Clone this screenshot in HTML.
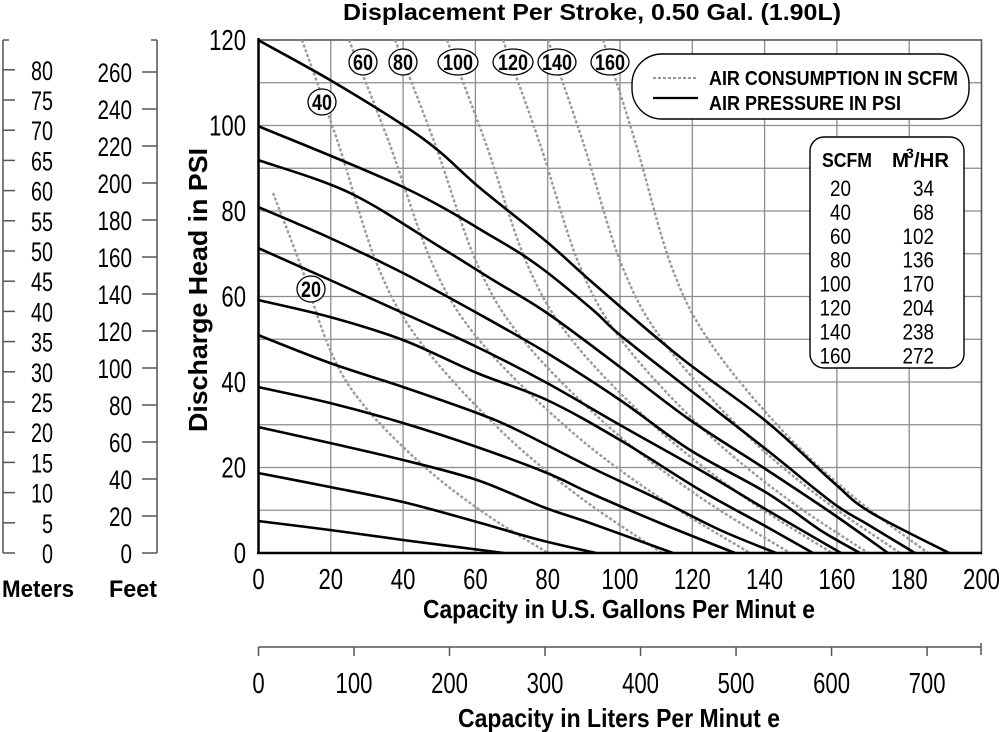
<!DOCTYPE html>
<html><head><meta charset="utf-8"><style>
html,body{margin:0;padding:0;background:#fff}
svg{display:block;font-family:"Liberation Sans",sans-serif}
</style></head><body>
<svg id="s" width="1000" height="732" viewBox="0 0 1000 732" xmlns="http://www.w3.org/2000/svg">
<g id="grid" stroke="#8c8c8c" stroke-width="1.3"></g>
<g id="dots" fill="none" stroke="#9a9a9a" stroke-width="2.4" stroke-dasharray="3,2"></g>
<g id="curves" fill="none" stroke="#000" stroke-width="2.6" stroke-linejoin="round"></g>
<g id="misc"></g>
</svg>
<script>
var NS="http://www.w3.org/2000/svg";
function el(p,t,a,txt){var e=document.createElementNS(NS,t);for(var k in a)e.setAttribute(k,a[k]);if(txt!==undefined)e.textContent=txt;document.getElementById(p).appendChild(e);return e;}
function X(g){return 258.5+3.615*g;}
function Y(p){return 553-4.275*p;}
function T(x,y,s,size,anchor,w,bold){var a={x:x,y:y,"font-size":size,"text-anchor":anchor||"start",fill:"#000"};if(w){a.textLength=w;a.lengthAdjust="spacingAndGlyphs";}if(bold)a["font-weight"]="bold";return el("misc","text",a,s);}
for(var g=20;g<200;g+=20)el("grid","line",{x1:X(g),y1:40,x2:X(g),y2:553});
for(var p=10;p<120;p+=10)el("grid","line",{x1:258,y1:Y(p),x2:981,y2:Y(p)});
el("grid","rect",{x:258.5,y:40,width:723,height:513,fill:"none",stroke:"#555","stroke-width":1.6});
var f=[[0,0],[.2,.1],[.44,.21],[.59,.33],[.76,.55],[.89,.77],[1,1]];
function fi(t){for(var i=1;i<f.length;i++){if(t<=f[i][0]){var a=f[i-1],b=f[i];return a[1]+(b[1]-a[1])*(t-a[0])/(b[0]-a[0]);}}return 1;}
var dc=[[273,193,548],[302,40,662],[349,40,750],[395,40,790],[447,40,832],[503,40,868],[548,40,900],[603,40,928]];
dc.forEach(function(c){var P=[];f.forEach(function(q){P.push([c[0]+(c[2]-c[0])*q[1],c[1]+(553-c[1])*q[0]]);});el("dots","path",{d:cr(P)});});
function cr(P){var d="M"+P[0][0]+","+P[0][1];for(var i=0;i<P.length-1;i++){var p0=P[i-1]||P[i],p1=P[i],p2=P[i+1],p3=P[i+2]||P[i+1];
var c1=[p1[0]+(p2[0]-p0[0])/6,p1[1]+(p2[1]-p0[1])/6],c2=[p2[0]-(p3[0]-p1[0])/6,p2[1]-(p3[1]-p1[1])/6];
d+=" C"+c1.join(",")+" "+c2.join(",")+" "+p2.join(",");}return d;}
var C=[
[[258,40],[330,80],[403,125],[440,152],[480,188],[547,242],[593,283],[680,357],[767,422],[833,482],[870,512],[949,553]],
[[258,126],[403,187],[493,237],[540,267],[593,310],[620,335],[690,390],[767,450],[833,503],[867,524],[915,553]],
[[258,160],[350,193],[440,247],[493,280],[547,313],[620,367],[690,420],[767,470],[833,514],[888,553]],
[[258,207],[330,238],[403,273],[477,313],[547,353],[620,400],[690,450],[767,493],[820,530],[860,553]],
[[258,248],[330,280],[403,313],[477,347],[547,383],[620,425],[700,470],[767,510],[841,553]],
[[258,300],[330,317],[403,340],[477,373],[547,400],[620,440],[700,490],[767,527],[813,553]],
[[258,335],[330,363],[403,387],[477,413],[517,430],[590,467],[660,500],[720,530],[776,553]],
[[258,387],[330,403],[403,423],[477,447],[547,473],[590,493],[660,523],[735,553]],
[[258,427],[330,443],[403,460],[477,480],[543,507],[590,523],[673,553]],
[[258,473],[330,487],[403,502],[477,522],[540,540],[596,553]],
[[258,521],[330,530],[403,540],[504,553]]];
C.forEach(function(P){el("curves","path",{d:cr(P)});});
el("misc","line",{x1:258.5,y1:38,x2:258.5,y2:554,stroke:"#000","stroke-width":2.5});
el("misc","line",{x1:257,y1:553,x2:982,y2:553,stroke:"#000","stroke-width":2.5});
var B=[["60",363,62,14],["80",403,62,14],["100",458,62,20],["120",513,62,20],["140",557,62,19],["160",610,62,19],["40",322,102,14],["20",311,289,14]];
B.forEach(function(b){el("misc","ellipse",{cx:b[1],cy:b[2],rx:b[3],ry:13,fill:"#fff",stroke:"#000","stroke-width":1.3});
T(b[1],b[2]+8,b[0],22,"middle",b[0].length*10,true);});
el("misc","rect",{x:632,y:54,width:337,height:65,rx:30,ry:30,fill:"#fff",stroke:"#000","stroke-width":1.4});
el("misc","line",{x1:653,y1:78,x2:698,y2:78,stroke:"#999","stroke-width":2,"stroke-dasharray":"3,2"});
el("misc","line",{x1:653,y1:98,x2:698,y2:98,stroke:"#000","stroke-width":2.2});
T(709,85,"AIR CONSUMPTION IN SCFM",20,"start",249,true);
T(709,110,"AIR PRESSURE IN PSI",20,"start",192,true);
el("misc","rect",{x:810,y:137,width:154,height:231,rx:14,ry:14,fill:"#fff",stroke:"#000","stroke-width":1.4});
T(822,167,"SCFM",20,"start",50,true);
T(892,167,"M",20,"start",17,true);
T(906,158,"3",14,"start",null,true);
T(914,167,"/HR",20,"start",35,true);
var rows=[["20","34"],["40","68"],["60","102"],["80","136"],["100","170"],["120","204"],["140","238"],["160","272"]];
rows.forEach(function(r,i){var y=196+i*23.9;T(851,y,r[0],22,"end",r[0].length*10.5);T(934,y,r[1],22,"end",r[1].length*10.5);});
T(592,20,"Displacement Per Stroke, 0.50 Gal. (1.90L)",23,"middle",498,true);
for(var p=0;p<=120;p+=20){var s=""+p;T(246,Y(p)+10,s,29,"end",s.length*12.3);}
var yt=T(0,0,"Discharge Head in PSI",26,"middle",284,true);yt.setAttribute("transform","translate(207,290) rotate(-90)");
for(var g=0;g<=200;g+=20){var s=""+g;T(X(g),589,s,29,"middle",s.length*12.3);}
T(619,618,"Capacity in U.S. Gallons Per Minut e",26,"middle",392,true);
el("misc","line",{x1:258.5,y1:647,x2:981,y2:647,stroke:"#555","stroke-width":1.5});
el("misc","line",{x1:981,y1:643,x2:981,y2:655,stroke:"#555","stroke-width":1.5});
for(var L=0;L<=700;L+=100){var x=X(L/3.785);el("misc","line",{x1:x,y1:647,x2:x,y2:656,stroke:"#555","stroke-width":1.5});var s=""+L;T(x,693,s,29,"middle",s.length*12.3);}
T(619,727,"Capacity in Liters Per Minut e",26,"middle",322,true);
el("misc","line",{x1:3,y1:40,x2:3,y2:553,stroke:"#555","stroke-width":1.5});
el("misc","line",{x1:3,y1:40,x2:9,y2:40,stroke:"#555","stroke-width":1.5});
for(var mm=0;mm<=80;mm+=5){var y=553-6.04*mm;el("misc","line",{x1:3,y1:y,x2:15,y2:y,stroke:"#555","stroke-width":1.5});var s=""+mm;T(53,y+10,s,27,"end",s.length*11);}
el("misc","line",{x1:157,y1:40,x2:157,y2:553,stroke:"#555","stroke-width":1.5});
el("misc","line",{x1:151,y1:40,x2:157,y2:40,stroke:"#555","stroke-width":1.5});
for(var ft=0;ft<=260;ft+=20){var y=553-1.85*ft;el("misc","line",{x1:142,y1:y,x2:157,y2:y,stroke:"#555","stroke-width":1.5});var s=""+ft;T(132,y+10,s,27,"end",s.length*11.5);}
T(2,597,"Meters",24,"start",72,true);
T(109,597,"Feet",24,"start",48,true);
</script>
</body></html>
